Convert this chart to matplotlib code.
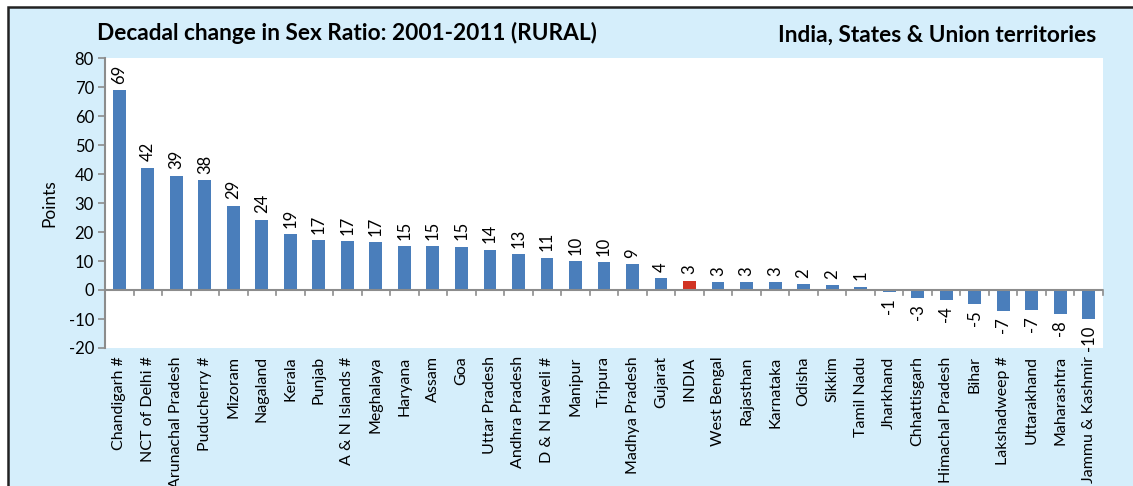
import matplotlib
matplotlib.use('Agg')
import matplotlib.pyplot as plt
from matplotlib.patches import Rectangle
import numpy as np

states = ['Chandigarh #', 'NCT of Delhi #', 'Arunachal Pradesh', 'Puducherry #', 'Mizoram',
          'Nagaland', 'Kerala', 'Punjab', 'A & N Islands #', 'Meghalaya', 'Haryana', 'Assam',
          'Goa', 'Uttar Pradesh', 'Andhra Pradesh', 'D & N Haveli #', 'Manipur', 'Tripura',
          'Madhya Pradesh', 'Gujarat', 'INDIA', 'West Bengal', 'Rajasthan', 'Karnataka',
          'Odisha', 'Sikkim', 'Tamil Nadu', 'Jharkhand', 'Chhattisgarh', 'Himachal Pradesh',
          'Bihar', 'Lakshadweep #', 'Uttarakhand', 'Maharashtra', 'Jammu & Kashmir']
change = [68.8, 42.2, 39.4, 37.9, 29.1, 24.3, 19.2, 17.2, 16.8, 16.5, 15.2, 15.1, 14.9,
          13.9, 12.4, 11.2, 10.0, 9.6, 8.9, 4.0, 3.2, 2.7, 2.7, 2.6, 1.9, 1.7, 1.2,
          -0.6, -2.6, -3.5, -4.7, -7.1, -7.0, -8.4, -10.0]
labels = [69, 42, 39, 38, 29, 24, 19, 17, 17, 17, 15, 15, 15, 14, 13, 11, 10, 10, 9, 4,
          3, 3, 3, 3, 2, 2, 1, -1, -3, -4, -5, -7, -7, -8, -10]

BG = '#d5eefb'
BLUE = '#4a7ebb'
RED = '#d13323'
GRAY = '#8c8c8c'
FONT = ['Lato', 'DejaVu Sans']
plt.rcParams['font.family'] = FONT
plt.rcParams['axes.unicode_minus'] = False

fig = plt.figure(figsize=(11.33, 4.86), dpi=100)
fig.patch.set_facecolor('white')
# outer chart frame
fig.patches.append(Rectangle((8 / 1133, -0.05), 1.1, 1 - 7 / 486 + 0.05,
                             transform=fig.transFigure, facecolor=BG,
                             edgecolor='#222222', linewidth=1.8, zorder=-5))

ax = fig.add_axes([105 / 1133, 1 - 348 / 486, 998 / 1133, 290 / 486])
ax.set_facecolor('white')

x = np.arange(len(states))
colors = [RED if s == 'INDIA' else BLUE for s in states]
ax.bar(x, change, width=0.45, color=colors, zorder=2)

for xi, v, lab in zip(x, change, labels):
    if v >= 0:
        ax.text(xi, v + 2.2, str(lab), rotation=90, ha='center', va='bottom', fontsize=12)
    else:
        ax.text(xi, v - 2.2, str(lab), rotation=90, ha='center', va='top', fontsize=12)

ax.set_xlim(-0.5, len(states) - 0.5)
ax.set_ylim(-20, 80)
ax.set_yticks(range(-20, 81, 10))
ax.tick_params(axis='y', labelsize=12, color=GRAY, length=5, width=1.2, pad=3)

# category axis drawn at zero
ax.axhline(0, color=GRAY, linewidth=1.5, zorder=3)
for b in np.arange(-0.5, len(states), 1.0):
    ax.plot([b, b], [0, -1.6], color=GRAY, linewidth=1.2, zorder=3, clip_on=False)
ax.set_xticks(x)
ax.set_xticklabels(states, rotation=90, fontsize=11.5)
ax.tick_params(axis='x', length=0, pad=6)

for side in ['top', 'right', 'bottom']:
    ax.spines[side].set_visible(False)
ax.spines['left'].set_color(GRAY)
ax.spines['left'].set_linewidth(1.5)

ax.set_ylabel('Points', fontsize=12.5, labelpad=8)

fig.text(97 / 1133, 1 - 33 / 486, 'Decadal change in Sex Ratio: 2001-2011 (RURAL)',
         fontsize=16.3, fontweight='bold', ha='left', va='center')
fig.text(1096 / 1133, 1 - 35 / 486, 'India, States & Union territories',
         fontsize=16.3, fontweight='bold', ha='right', va='center')

plt.savefig('out.png', dpi=100, facecolor=fig.get_facecolor())
